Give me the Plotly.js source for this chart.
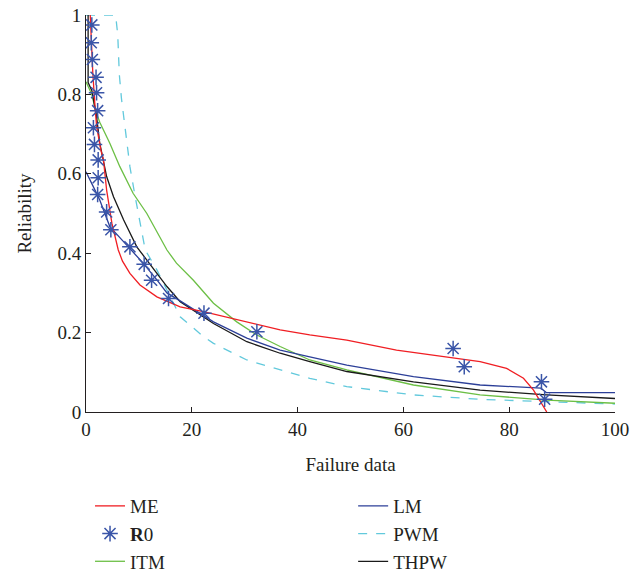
<!DOCTYPE html>
<html>
<head>
<meta charset="utf-8">
<script src="https://cdn.plot.ly/plotly-3.0.1.min.js"></script>
<style>html,body{margin:0;padding:0;background:#fff;}#chart{width:642px;height:573px;}</style>
</head>
<body>
<div id="chart"></div>
<script>
const meX = [0.8, 1.0, 1.3, 1.7, 2.0, 2.8, 3.3, 3.9, 4.9, 6.1, 6.9, 8.3, 10.2, 13.4, 17.8, 22.2, 30.4, 36.7, 42.3, 49.3, 58.7, 68.2, 74.5, 79.5, 82.7, 84.6, 85.8, 87.1];
const meY = [1.0, 0.93, 0.85, 0.77, 0.72, 0.66, 0.635, 0.559, 0.475, 0.408, 0.38, 0.349, 0.32, 0.29, 0.265, 0.253, 0.227, 0.207, 0.194, 0.181, 0.156, 0.139, 0.127, 0.110, 0.085, 0.055, 0.030, 0.0];

const r0X = [1.1, 1.0, 1.2, 1.9, 2.0, 2.2, 1.4, 1.6, 2.3, 2.3, 2.2, 3.9, 4.7, 8.3, 11.0, 12.4, 15.6, 22.3, 32.3, 69.4, 71.5, 86.1, 86.7];
const r0Y = [0.975, 0.930, 0.888, 0.843, 0.804, 0.759, 0.716, 0.674, 0.635, 0.590, 0.548, 0.504, 0.459, 0.416, 0.372, 0.332, 0.286, 0.249, 0.202, 0.160, 0.114, 0.076, 0.032];

const itmX = [0, 1.1, 1.8, 2.6, 4.5, 6.4, 8.9, 11.5, 15.3, 17.1, 20.3, 24.1, 28.5, 32.3, 36.7, 42.3, 49.3, 61.9, 74.5, 87.1, 100];
const itmY = [0.832, 0.80, 0.76, 0.73, 0.677, 0.618, 0.551, 0.50, 0.408, 0.375, 0.332, 0.274, 0.227, 0.194, 0.165, 0.131, 0.106, 0.068, 0.043, 0.030, 0.022];

const lmX = [0, 0.5, 1.4, 2.6, 3.3, 4.5, 8.0, 10.8, 13.4, 15.3, 17.8, 24.1, 30.4, 36.7, 42.3, 49.3, 61.9, 74.5, 86.0, 87.0, 100];
const lmY = [0.605, 0.59, 0.567, 0.534, 0.509, 0.467, 0.416, 0.375, 0.333, 0.30, 0.28, 0.227, 0.186, 0.156, 0.139, 0.118, 0.089, 0.068, 0.060, 0.049, 0.049];

const pwmX = [0, 5.6, 6.0, 6.3, 6.7, 7.4, 8.3, 9.3, 10.2, 11.2, 13.4, 15.9, 17.8, 22.2, 24.1, 30.4, 36.7, 42.3, 49.3, 61.9, 74.5, 87.1, 100];
const pwmY = [1.0, 1.0, 0.95, 0.85, 0.79, 0.71, 0.618, 0.542, 0.475, 0.408, 0.358, 0.29, 0.24, 0.19, 0.173, 0.131, 0.106, 0.085, 0.064, 0.043, 0.032, 0.026, 0.020];

const thpwX = [0.4, 0.4, 1.1, 2.0, 2.6, 3.9, 5.2, 7.1, 9.6, 12.4, 15.3, 17.8, 24.1, 30.4, 36.7, 42.3, 49.3, 61.9, 74.5, 87.1, 100];
const thpwY = [1.0, 0.83, 0.81, 0.744, 0.677, 0.593, 0.542, 0.484, 0.416, 0.366, 0.316, 0.278, 0.223, 0.177, 0.148, 0.127, 0.102, 0.076, 0.055, 0.043, 0.034];

const serif = "Liberation Serif, DejaVu Serif, serif";
const txt = "#231f20";

const traces = [
  {x: pwmX, y: pwmY, name: "PWM", mode: "lines", line: {color: "#62c9dc", width: 1.3, dash: "dash"}, legend: "legend2", legendrank: 2},
  {x: itmX, y: itmY, name: "ITM", mode: "lines", line: {color: "#6cbf45", width: 1.3}, legend: "legend", legendrank: 3},
  {x: thpwX, y: thpwY, name: "THPW", mode: "lines", line: {color: "#1a1a1a", width: 1.3}, legend: "legend2", legendrank: 3},
  {x: lmX, y: lmY, name: "LM", mode: "lines", line: {color: "#2c3f98", width: 1.3}, legend: "legend2", legendrank: 1},
  {x: meX, y: meY, name: "ME", mode: "lines", line: {color: "#f01e23", width: 1.3}, legend: "legend", legendrank: 1},
  {x: r0X, y: r0Y, name: "<b>R</b>0", mode: "markers", marker: {symbol: "asterisk-open", size: 13, color: "#3a55a8", line: {color: "#3a55a8", width: 1.5}}, legend: "legend", legendrank: 2}
];

const legendBase = {
  orientation: "v", yanchor: "top", xanchor: "left",
  font: {family: serif, size: 19, color: txt},
  bgcolor: "rgba(0,0,0,0)", tracegroupgap: 0, itemwidth: 30, traceorder: "normal"
};

const layout = {
  width: 642, height: 573,
  margin: {l: 86, r: 27, t: 15, b: 161, autoexpand: false},
  paper_bgcolor: "#fff", plot_bgcolor: "#fff",
  font: {family: serif, size: 19, color: txt},
  showlegend: true,
  legend: Object.assign({}, legendBase, {x: 0.0076, y: -0.189}),
  legend2: Object.assign({}, legendBase, {x: 0.505, y: -0.189}),
  xaxis: {
    range: [0, 100], tickvals: [0, 20, 40, 60, 80, 100],
    ticks: "inside", ticklen: 5, tickcolor: "#231f20", showline: true, linecolor: "#231f20", linewidth: 1,
    showgrid: false, zeroline: false, mirror: false, automargin: false,
    tickfont: {family: serif, size: 19, color: txt},
    title: {text: "Failure data", font: {family: serif, size: 19, color: txt}, standoff: 18}
  },
  yaxis: {
    range: [0, 1], tickvals: [0, 0.2, 0.4, 0.6, 0.8, 1], ticktext: ["0", "0.2", "0.4", "0.6", "0.8", "1"],
    ticks: "inside", ticklen: 5, tickcolor: "#231f20", showline: true, linecolor: "#231f20", linewidth: 1,
    showgrid: false, zeroline: false, mirror: false, automargin: false,
    tickfont: {family: serif, size: 19, color: txt},
    title: {text: "Reliability", font: {family: serif, size: 19, color: txt}, standoff: 20}
  }
};

Plotly.newPlot("chart", traces, layout, {displayModeBar: false, staticPlot: true});
</script>
</body>
</html>
